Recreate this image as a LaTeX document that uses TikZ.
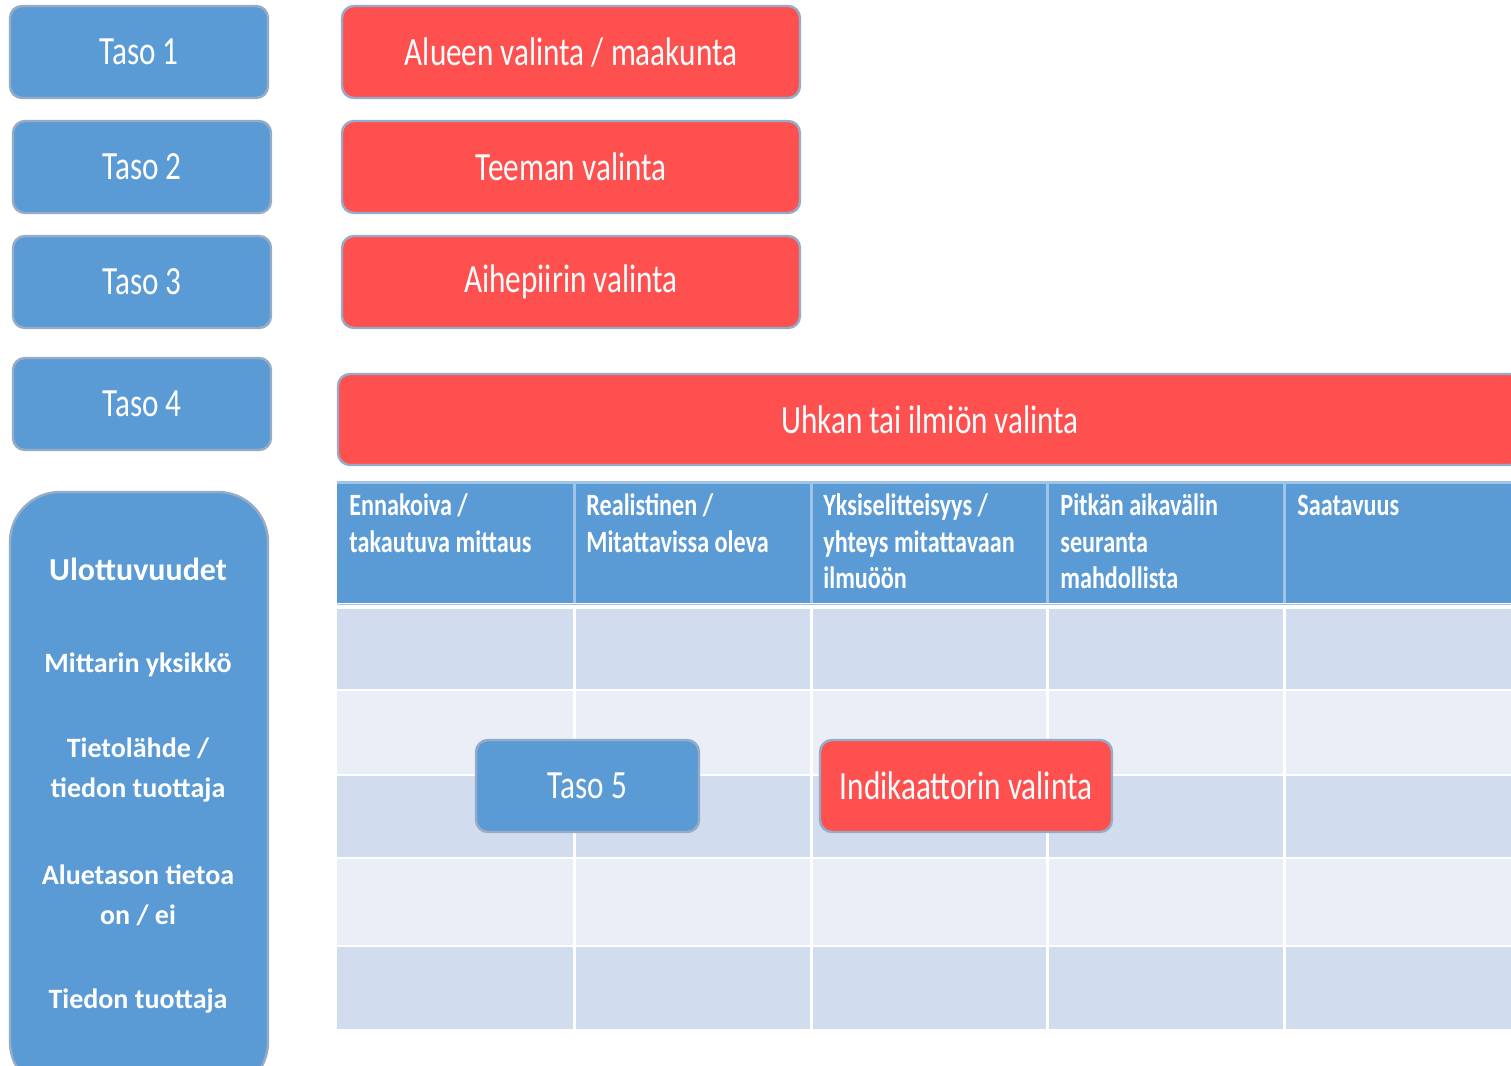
\documentclass[tikz,border=0pt]{standalone}
\usepackage{fontspec}
\setmainfont{Carlito}
\newfontfamily\narrowfont[FakeStretch=0.78]{Carlito}
\definecolor{myblue}{RGB}{91,155,213}
\definecolor{myred}{RGB}{255,80,80}
\definecolor{edgegray}{RGB}{150,172,198}
\definecolor{rowdark}{RGB}{209,221,238}
\definecolor{rowlight}{RGB}{233,238,247}
\definecolor{sepblue}{RGB}{160,196,230}
\begin{document}
\begin{tikzpicture}[x=0.5pt,y=-0.5pt,
  lvlbox/.style={rectangle, rounded corners=6pt, draw=edgegray, line width=1.2pt, text=white, inner sep=0pt, font=\narrowfont\fontsize{20}{24}\selectfont},
  bluebox/.style={lvlbox, fill=myblue},
  redbox/.style={lvlbox, fill=myred},
  hdrtext/.style={anchor=base west, inner sep=0pt, text=white, font=\narrowfont\bfseries\fontsize{15.5}{18}\selectfont},
  dimtext/.style={anchor=base, inner sep=0pt, text=white, font=\bfseries\fontsize{14}{17}\selectfont},
  colsep/.style={white, line width=1.5pt},
  hdrsep/.style={sepblue, line width=1.5pt}
]
\useasboundingbox (0,0) rectangle (1511,1066);
\clip (0,0) rectangle (1511,1066);

% level boxes
\node[bluebox, minimum width=258*0.5pt, minimum height=92*0.5pt] (t1) at (139,52) {Taso 1};
\node[bluebox, minimum width=258*0.5pt, minimum height=92*0.5pt] (t2) at (142,167) {Taso 2};
\node[bluebox, minimum width=258*0.5pt, minimum height=92*0.5pt] (t3) at (142,282) {Taso 3};
\node[bluebox, minimum width=258*0.5pt, minimum height=92*0.5pt] (t4) at (142,404) {Taso 4};

\node[redbox, minimum width=458*0.5pt, minimum height=92*0.5pt] (r1) at (571,52) {Alueen valinta / maakunta};
\node[redbox, minimum width=458*0.5pt, minimum height=92*0.5pt] (r2) at (571,167) {Teeman valinta};
\node[redbox, minimum width=458*0.5pt, minimum height=92*0.5pt] (r3) at (571,282) {Aihepiirin valinta};
\node[redbox, minimum width=1184*0.5pt, minimum height=91*0.5pt] (r4) at (930,419.5) {Uhkan tai ilmiön valinta};

% table
\fill[myblue] (337,481) rectangle (1520,603);
\draw[hdrsep] (337,482) -- (1520,482);
\fill[rowdark] (337,609) rectangle (1520,690);
\fill[rowlight] (337,690) rectangle (1520,775);
\fill[rowdark] (337,775) rectangle (1520,858);
\fill[rowlight] (337,858) rectangle (1520,946);
\fill[rowdark] (337,946) rectangle (1520,1029);
\foreach \yy in {690,775,858,946} \draw[white, line width=0.8pt] (337,\yy) -- (1520,\yy);
\foreach \xx in {574,811,1047,1284} {
  \draw[hdrsep] (\xx,481) -- (\xx,603);
  \draw[colsep] (\xx,609) -- (\xx,1029);
}
\draw[sepblue, line width=0.8pt] (337,604.5) -- (1520,604.5);

% header texts
\node[hdrtext] (h1a) at (349,515) {Ennakoiva /};
\node[hdrtext] (h1b) at (349,552) {takautuva mittaus};
\node[hdrtext] (h2a) at (586,515) {Realistinen /};
\node[hdrtext] (h2b) at (586,552) {Mitattavissa oleva};
\node[hdrtext] (h3a) at (823,515) {Yksiselitteisyys /};
\node[hdrtext] (h3b) at (823,552) {yhteys mitattavaan};
\node[hdrtext] (h3c) at (823,588) {ilmuöön};
\node[hdrtext] (h4a) at (1060,515) {Pitkän aikavälin};
\node[hdrtext] (h4b) at (1060,552) {seuranta};
\node[hdrtext] (h4c) at (1060,588) {mahdollista};
\node[hdrtext] (h5a) at (1297,515) {Saatavuus};

% dimensions column
\node[bluebox, rounded corners=25pt, minimum width=258*0.5pt, minimum height=600*0.5pt] (dims) at (139,792) {};
\node[dimtext, font=\bfseries\fontsize{16}{19}\selectfont] (d0) at (138,580) {Ulottuvuudet};
\node[dimtext] (d1) at (138,672) {Mittarin yksikkö};
\node[dimtext] (d2a) at (138,757) {Tietolähde /};
\node[dimtext] (d2b) at (138,797) {tiedon tuottaja};
\node[dimtext] (d3a) at (138,884) {Aluetason tietoa};
\node[dimtext] (d3b) at (138,924) {on / ei};
\node[dimtext] (d4) at (138,1008) {Tiedon tuottaja};

% level 5
\node[bluebox, minimum width=223*0.5pt, minimum height=92*0.5pt] (t5) at (587.5,786) {Taso 5};
\node[redbox, minimum width=292*0.5pt, minimum height=92*0.5pt] (r5) at (966,786) {Indikaattorin valinta};
\end{tikzpicture}
\end{document}
